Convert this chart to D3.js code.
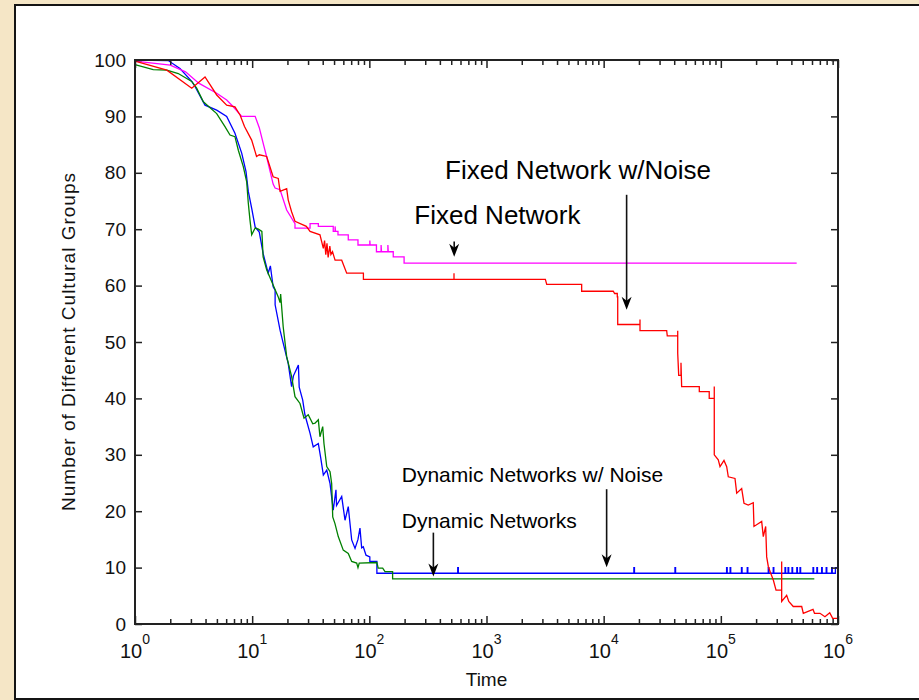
<!DOCTYPE html>
<html><head><meta charset="utf-8">
<script src="https://cdn.jsdelivr.net/npm/d3@7"></script>
<style>
html,body{margin:0;padding:0;background:#f5e6c6;}
svg{display:block;}
text{font-family:"Liberation Sans",Arial,Helvetica,sans-serif;}
</style></head><body>
<svg id="c" width="919" height="700"></svg>
<script>
// ---------- data ----------
const xMajorTicks = [1, 10, 100, 1000, 10000, 100000, 1000000];
const xTickExponents = ["0", "1", "2", "3", "4", "5", "6"];
const yTicks = [0, 10, 20, 30, 40, 50, 60, 70, 80, 90, 100];
const xLabel = "Time";
const yLabel = "Number of Different Cultural Groups";

// Fixed Network (magenta)
const fixedNetwork = [[1,99.8],[2,99.1],[2.7,97.9],[3.5,95.9],[4.98,94.1],[6.06,92.9],[6.9,91.7],[8.14,90],[10.6,90],[11.5,88],[12.5,85],[13.3,82.8],[15.1,78],[15.7,77.3],[17.3,77.0],[19.7,73.4],[23.2,71],[23.2,70.2],[31.2,70.2],[31.2,71],[36.7,71],[36.7,70.5],[49.2,70.5],[49.2,69.6],[51,69.6],[51,70.5],[51.5,69.6],[54,69.6],[54,69],[66.1,69],[66.1,68.1],[80,68.1],[80,67.2],[101,67.2],[101,68],[101.5,67.2],[115,67.2],[115,66],[126,66],[126,67.2],[127,66],[144,66],[144,67.2],[145,66],[160,66],[160,65.1],[198,65.1],[198,64],[444000,64]];

// Fixed Network w/Noise (red)
const fixedNetworkNoise = [[1,99.8],[1.87,98.2],[3.05,95],[3.96,97.0],[4.98,93.8],[6.06,92],[7.13,91.7],[7.9,90.2],[8.6,88.2],[9.9,85.8],[10.9,82.9],[11.5,83.2],[13.3,82.9],[15.1,79.3],[16.7,79.0],[17.3,76.7],[19.7,77.2],[20.3,75.2],[21.7,73.1],[23.2,71.4],[29,70.5],[31.2,69.6],[37.9,69],[40.5,66.6],[41.5,68],[42.5,65.5],[43.5,67.5],[44.5,65],[46,67],[47,65.5],[48.5,66],[51,64.5],[58.1,64.5],[64.1,62.2],[89,62.2],[89,61.1],[528,61.1],[528,62.2],[528,61.1],[3180,61.1],[3265,60.2],[6490,60.2],[6490,59],[12080,59],[12400,58.6],[13070,58.6],[13070,58],[13180,58],[13180,53.1],[20420,53.1],[20420,54],[20420,52],[34500,52],[34900,51.1],[42850,51.1],[42850,52],[42850,48],[43700,44.1],[45700,44.1],[45700,46.3],[46300,42.1],[65500,42.1],[65500,41.2],[79600,41.2],[79600,40],[87900,40],[87900,42.1],[87900,30],[95100,29.1],[98400,27.9],[106400,29],[112200,27.9],[115800,26.1],[132100,25.8],[136600,23.2],[150600,24.0],[157700,21.4],[171500,21.1],[189100,21.5],[191800,17.3],[223200,18.2],[230300,15.5],[241400,17.3],[246200,11.9],[254200,10.2],[266400,9],[280500,7.8],[295800,6],[330600,6],[330600,11.1],[330600,4],[364600,5.1],[380000,4],[415100,3.1],[490000,3.1],[505800,1.9],[612000,2.6],[630000,1.9],[702000,1.9],[774000,1.3],[850000,2],[900000,1],[1000000,1]];

// Dynamic Networks w/ Noise (blue)
const dynamicNetworksNoise = [[1,100],[1.92,99.9],[2.42,98.5],[3.05,96.2],[3.25,95.3],[3.96,92],[4.98,91.1],[6.06,90],[7.13,87],[8.14,83.5],[8.86,80.2],[9.27,76.7],[9.91,73.7],[10.6,70.4],[11.5,69.5],[12.4,65.7],[13.7,62.2],[14.3,63.5],[15.1,59.8],[15.7,59.2],[15.7,56.6],[17.3,52.1],[18.4,49.8],[20.3,46.2],[21.7,42.1],[22.5,44],[24.8,45.9],[25.2,42],[27.0,39.7],[28.2,37.1],[31.2,33.8],[33.2,31.4],[36.7,32.0],[38.5,29.4],[40.5,26.4],[43.3,27.3],[46.2,24.9],[49.2,20.2],[51.9,23.8],[52.5,21],[58.1,22.6],[62,18.4],[66.1,20.8],[70.7,14.9],[75.5,13.4],[80,15],[83.2,17.0],[86,13.5],[88.8,13.7],[93.7,12.2],[101,11.9],[101,11.1],[116,11.1],[116,9]];
const dynamicNoiseSpikes = [568, 18100, 40600, 112000, 120000, 150000, 168000, 254000, 280000, 353000, 375000, 405000, 445000, 474000, 612000, 660000, 725000, 793000, 883000];
const dynamicNoiseLevel = [9, 10];
const dynamicNoiseEnd = [[950000,9],[950000,10],[1000000,10]];

// Dynamic Networks (green)
const dynamicNetworks = [[1,99.2],[1.43,98.3],[1.87,98.2],[2.34,97.6],[3.05,96.2],[3.36,95],[3.83,92.6],[4.98,90.5],[5.86,88.2],[6.47,86.7],[7.13,86.4],[7.62,84],[8.4,81.1],[8.98,78.4],[9.27,74.6],[9.58,71.6],[9.91,69],[10.6,70.2],[11.3,70],[12.1,69.6],[12.4,65.1],[13.3,62.8],[15.1,60.1],[16.7,58],[17.3,57],[17.5,58.5],[18.4,52.7],[19.7,47.4],[21.7,43.9],[23.2,40.3],[25.6,39.1],[27.7,36.5],[30.1,37.1],[32.9,35.5],[34.4,35.6],[36.7,36.2],[37.9,33.2],[40,35],[41,32],[43.3,27.9],[46.2,27.0],[47.7,24.9],[48.7,19.0],[50.9,17.8],[54.3,15.5],[59.9,13.1],[66.1,12.5],[70.7,11.1],[78,10.8],[80,10],[82,10.8],[116,10.9],[119,9.9],[130,9.9],[136,9.3],[158,9.3],[158,8],[628000,8]];

// Annotations (data coordinates)
const annotations = [
  {text:"Fixed Network w/Noise", t:443, v:78.9, size:26},
  {text:"Fixed Network", t:242, v:71.0, size:26},
  {text:"Dynamic Networks w/ Noise", t:189, v:25.2, size:21},
  {text:"Dynamic Networks", t:189, v:17.1, size:21}
];
const arrows = [
  {t:530, v0:67.8, v1:65.1},
  {t:15700, v0:76.1, v1:55.7},
  {t:352, v0:16.2, v1:8.4},
  {t:10600, v0:23.9, v1:10.05}
];

// ---------- drawing ----------
const svg = d3.select("#c");
const M = {left:135, right:838, top:60, bottom:624};
const x = d3.scaleLog().domain([1, 1e6]).range([M.left, M.right]);
const y = d3.scaleLinear().domain([0, 100]).range([M.bottom, M.top]);

// figure frame
svg.append("rect").attr("x",15).attr("y",5).attr("width",910).attr("height",694)
  .attr("fill","#ffffff").attr("stroke","#141414").attr("stroke-width",2);

// build blue series with spikes
const blue = dynamicNetworksNoise.slice();
dynamicNoiseSpikes.forEach(t => {
  blue.push([t, dynamicNoiseLevel[0]], [t, dynamicNoiseLevel[1]], [t*1.012, dynamicNoiseLevel[1]], [t*1.012, dynamicNoiseLevel[0]]);
});
dynamicNoiseEnd.forEach(p => blue.push(p));

const line = d3.line().x(d => x(d[0])).y(d => y(d[1]));
const g = svg.append("g");
const lines = [
  {data: blue, color:"#0000ff"},
  {data: dynamicNetworks, color:"#008000"},
  {data: fixedNetwork, color:"#ff00ff"},
  {data: fixedNetworkNoise, color:"#ff0000"}
];
lines.forEach(s => {
  g.append("path").datum(s.data).attr("d", line)
   .attr("fill","none").attr("stroke", s.color).attr("stroke-width",1.3)
   .attr("stroke-linejoin","miter");
});

// minor ticks
const minorTicks = [];
for (let k = 0; k < 6; k++) for (let m = 2; m <= 9; m++) minorTicks.push(m * xMajorTicks[k]);

function styleAxis(sel){
  sel.selectAll("path.domain").remove();
  sel.selectAll("line").attr("stroke","#222").attr("stroke-width",1.5);
}
svg.append("g").attr("transform",`translate(0,${M.bottom})`)
  .call(d3.axisBottom(x).tickValues(xMajorTicks).tickSizeInner(-8).tickSizeOuter(0).tickFormat(""))
  .call(styleAxis);
svg.append("g").attr("transform",`translate(0,${M.bottom})`)
  .call(d3.axisBottom(x).tickValues(minorTicks).tickSizeInner(-5).tickSizeOuter(0).tickFormat(""))
  .call(styleAxis);
svg.append("g").attr("transform",`translate(0,${M.top})`)
  .call(d3.axisTop(x).tickValues(xMajorTicks).tickSizeInner(-8).tickSizeOuter(0).tickFormat(""))
  .call(styleAxis);
svg.append("g").attr("transform",`translate(0,${M.top})`)
  .call(d3.axisTop(x).tickValues(minorTicks).tickSizeInner(-5).tickSizeOuter(0).tickFormat(""))
  .call(styleAxis);
const yl = svg.append("g").attr("transform",`translate(${M.left},0)`)
  .call(d3.axisLeft(y).tickValues(yTicks).tickSizeInner(-7).tickSizeOuter(0).tickPadding(9));
yl.call(styleAxis);
yl.selectAll("text").attr("font-size",19).attr("fill","#111")
  .attr("font-family",'"Liberation Sans",Arial,sans-serif');
svg.append("g").attr("transform",`translate(${M.right},0)`)
  .call(d3.axisRight(y).tickValues(yTicks).tickSizeInner(-7).tickSizeOuter(0).tickFormat(""))
  .call(styleAxis);

// axes box
svg.append("rect").attr("x",M.left).attr("y",M.top)
  .attr("width",M.right-M.left).attr("height",M.bottom-M.top)
  .attr("fill","none").attr("stroke","#222").attr("stroke-width",2);

// x tick labels with superscripts
const xl = svg.append("g");
xMajorTicks.forEach((t,i) => {
  const tx = xl.append("text").attr("x", x(t)).attr("y", M.bottom+34)
    .attr("text-anchor","middle").attr("fill","#111");
  tx.append("tspan").attr("font-size",20).text("10");
  tx.append("tspan").attr("font-size",14).attr("dy",-14).text(xTickExponents[i]);
});

// axis labels
svg.append("text").attr("x",(M.left+M.right)/2).attr("y",686)
  .attr("text-anchor","middle").attr("font-size",19).attr("fill","#111").text(xLabel);
svg.append("text").attr("transform",`translate(75,${(M.top+M.bottom)/2}) rotate(-90)`)
  .attr("text-anchor","middle").attr("font-size",19).attr("fill","#111")
  .attr("textLength",338).attr("lengthAdjust","spacing").text(yLabel);

// annotations
annotations.forEach(a => {
  svg.append("text").attr("x", x(a.t)).attr("y", y(a.v))
    .attr("font-size", a.size).attr("fill","#000").text(a.text);
});
arrows.forEach(a => {
  const ax = x(a.t), y0 = y(a.v0), y1 = y(a.v1);
  svg.append("line").attr("x1",ax).attr("x2",ax).attr("y1",y0).attr("y2",y1-8)
    .attr("stroke","#111").attr("stroke-width",1.6);
  svg.append("path")
    .attr("d", `M${ax-5},${y1-13} L${ax},${y1-9} L${ax+5},${y1-13} L${ax},${y1} Z`)
    .attr("fill","#000");
});
</script>
</body></html>
